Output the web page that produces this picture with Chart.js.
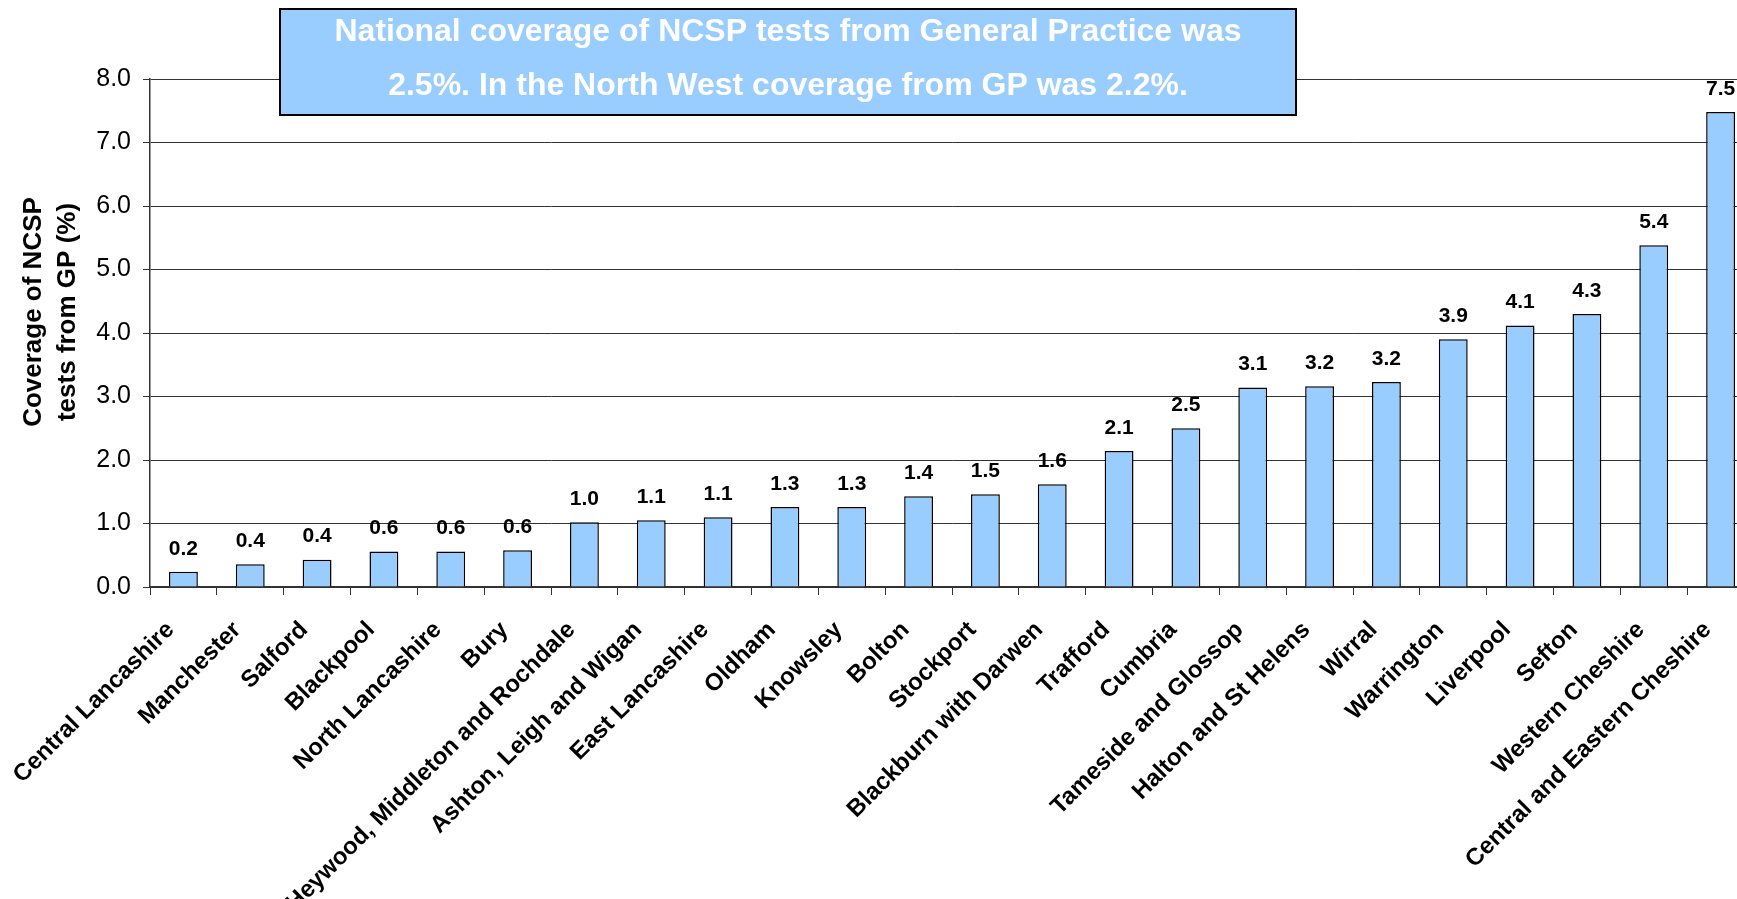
<!DOCTYPE html>
<html>
<head>
<meta charset="utf-8">
<script src="https://cdn.jsdelivr.net/npm/chart.js@4.4.1/dist/chart.umd.min.js"></script>
<style>
  body { margin: 0; background: #fff; overflow: hidden; }
  #wrap { position: relative; width: 1756px; height: 899px; }
</style>
</head>
<body>
<div id="wrap"><canvas id="grafico"></canvas></div>
<script>
// Areas (categorias del eje X)
var areas = ["Central Lancashire", "Manchester", "Salford", "Blackpool", "North Lancashire", "Bury",
  "Heywood, Middleton and Rochdale", "Ashton, Leigh and Wigan", "East Lancashire", "Oldham", "Knowsley",
  "Bolton", "Stockport", "Blackburn with Darwen", "Trafford", "Cumbria", "Tameside and Glossop",
  "Halton and St Helens", "Wirral", "Warrington", "Liverpool", "Sefton", "Western Cheshire",
  "Central and Eastern Cheshire"];
// Cobertura (%)
var cobertura = [0.24, 0.36, 0.43, 0.56, 0.56, 0.58, 1.02, 1.05, 1.1, 1.26, 1.26, 1.43, 1.46, 1.62,
  2.14, 2.5, 3.14, 3.16, 3.23, 3.9, 4.12, 4.3, 5.38, 7.48];
// Marcas del eje Y
var marcasY = [0, 1, 2, 3, 4, 5, 6, 7, 8];
// Titulo del eje Y
var tituloY = ["Coverage of NCSP", "tests from GP (%)"];
// Texto del recuadro
var recuadro = ["National coverage of NCSP tests from General Practice was",
  "2.5%. In the North West coverage from GP was 2.2%."];

var fuente = "Arial, 'Liberation Sans', Helvetica, sans-serif";

// etiquetas de valor encima de cada barra
var etiquetasBarras = {
  id: "etiquetasBarras",
  afterDatasetsDraw: function(chart) {
    var ctx = chart.ctx;
    var meta = chart.getDatasetMeta(0);
    ctx.save();
    ctx.fillStyle = "#000";
    ctx.font = "bold 21px " + fuente;
    ctx.textAlign = "center";
    ctx.textBaseline = "middle";
    meta.data.forEach(function(barra, i) {
      ctx.fillText(cobertura[i].toFixed(1), barra.x, barra.y - 23);
    });
    ctx.restore();
  }
};

// titulo del eje Y (dos lineas, girado)
var tituloEjeY = {
  id: "tituloEjeY",
  afterDraw: function(chart) {
    var ctx = chart.ctx;
    ctx.save();
    ctx.translate(51, 312);
    ctx.rotate(-Math.PI / 2);
    ctx.fillStyle = "#000";
    ctx.font = "bold 26px " + fuente;
    ctx.textAlign = "center";
    ctx.textBaseline = "middle";
    ctx.fillText(tituloY[0], 0, -17);
    ctx.fillText(tituloY[1], 0, 17);
    ctx.restore();
  }
};

// recuadro azul con el comentario
var cajaTexto = {
  id: "cajaTexto",
  afterDraw: function(chart) {
    var ctx = chart.ctx;
    ctx.save();
    ctx.fillStyle = "#99CCFF";
    ctx.fillRect(280, 9, 1016, 106);
    ctx.strokeStyle = "#000";
    ctx.lineWidth = 2;
    ctx.strokeRect(280, 9, 1016, 106);
    ctx.fillStyle = "#fff";
    ctx.font = "bold 32px " + fuente;
    ctx.textAlign = "center";
    ctx.textBaseline = "middle";
    ctx.fillText(recuadro[0], 788, 32);
    ctx.fillText(recuadro[1], 788, 86);
    ctx.restore();
  }
};

var ctxGraf = document.getElementById("grafico").getContext("2d");
var grafico = new Chart(ctxGraf, {
  type: "bar",
  data: {
    labels: areas,
    datasets: [{
      data: cobertura,
      backgroundColor: "#99CCFF",
      borderColor: "#000",
      borderWidth: 1.5,
      barPercentage: 0.8,
      categoryPercentage: 0.54
    }]
  },
  options: {
    responsive: true,
    maintainAspectRatio: false,
    animation: false,
    layout: { padding: { top: 79, right: 2, left: 0, bottom: 0 } },
    plugins: {
      legend: { display: false },
      tooltip: { enabled: false }
    },
    scales: {
      x: {
        grid: { display: true, drawOnChartArea: false, drawTicks: true, tickLength: 8, color: "#333", offset: true },
        border: { color: "#333", width: 1.5 },
        ticks: {
          color: "#000",
          font: { family: fuente, size: 24, weight: "bold" },
          minRotation: 45,
          maxRotation: 45,
          autoSkip: false,
          padding: 21,
          labelOffset: -13
        },
        afterFit: function(scale) {
          scale.height = 312;
          // las etiquetas pueden salirse, como en el original
          scale.paddingLeft = 0;
          scale.paddingRight = 0;
        }
      },
      y: {
        min: 0,
        max: 8,
        afterBuildTicks: function(scale) {
          scale.ticks = marcasY.map(function(v) { return { value: v }; });
        },
        grid: { color: "#333", lineWidth: 1, tickLength: 7 },
        border: { color: "#333", width: 1.5 },
        ticks: {
          color: "#000",
          font: { family: fuente, size: 25 },
          padding: 12,
          callback: function(v) { return v.toFixed(1); }
        },
        afterFit: function(scale) { scale.width = 150; }
      }
    }
  },
  plugins: [etiquetasBarras, tituloEjeY, cajaTexto]
});
</script>
</body>
</html>
